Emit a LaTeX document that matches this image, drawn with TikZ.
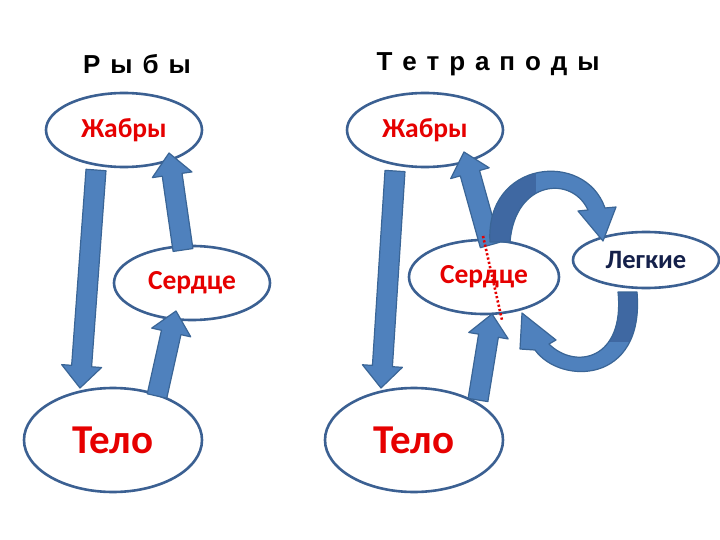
\documentclass[tikz,border=0pt]{standalone}
\usepackage{fontspec}
\setmainfont{Carlito}
\newfontfamily\arialf{Liberation Sans}
\usetikzlibrary{calc,shapes.geometric}
\definecolor{ellline}{HTML}{3B6092}
\definecolor{arrfill}{HTML}{4F81BD}
\definecolor{arrline}{HTML}{3A6596}
\definecolor{arrdark}{HTML}{3F68A2}
\definecolor{lblred}{HTML}{E60000}
\definecolor{navy}{HTML}{14204A}
\tikzset{
  oval/.style={ellipse, draw=ellline, line width=2.6pt, fill=white, inner sep=0pt,
    text=lblred, font=\bfseries\fontsize{27.5}{27.5}\selectfont},
  titletext/.style={font={\arialf\bfseries\fontsize{26}{26}\selectfont\spaceskip=9.9pt\relax}, text=black},
  barrow/.style={fill=arrfill, draw=arrline, line width=1.2pt, line join=round},
  redline/.style={draw=red!90!black, line width=2.6pt, dash pattern=on 2.2pt off 2.2pt},
}
\newcommand\blockarrow[2]{%
  \draw[barrow] ($(#1)!10pt!90:(#2)$)
    -- ($(#2)!22pt!(#1)!10pt!90:(#2)$)
    -- ($(#2)!22pt!(#1)!20pt!90:(#2)$)
    -- (#2)
    -- ($(#2)!22pt!(#1)!20pt!-90:(#2)$)
    -- ($(#2)!22pt!(#1)!10pt!-90:(#2)$)
    -- ($(#1)!10pt!-90:(#2)$) -- cycle;}
\begin{document}
\begin{tikzpicture}[x=1pt,y=-1pt]
\useasboundingbox (0,0) rectangle (720,540);
\fill[white] (0,0) rectangle (720,540);
% titles
\node[titletext] (t1) at (137,64) {Р ы б ы};
\node[titletext] (t2) at (488,64) {Т е т р а п о д ы};
% ovals, fishes
\node[oval, minimum width=156pt, minimum height=74pt] (g1) at (124,130) {Жабры};
\node[oval, minimum width=156pt, minimum height=74pt] (h1) at (192,283) {Сердце};
\node[oval, minimum width=178pt, minimum height=104pt, font=\bfseries\fontsize{41}{41}\selectfont] (b1) at (113,440) {Тело};
% ovals, tetrapods
\node[oval, minimum width=156pt, minimum height=74pt] (g2) at (425,130) {Жабры};
\node[oval, minimum width=150pt, minimum height=74pt] (h2) at (484,277) {Сердце};
\node[oval, minimum width=146pt, minimum height=56pt, text=navy, font=\bfseries\fontsize{26.5}{26.5}\selectfont] (l2) at (646,260) {Легкие};
\node[oval, minimum width=178pt, minimum height=104pt, font=\bfseries\fontsize{41}{41}\selectfont] (b2) at (414,440) {Тело};
% arrow end points
\coordinate (a1s) at (96,170);  \coordinate (a1e) at (80,388);
\coordinate (a2s) at (183,250); \coordinate (a2e) at (169,153);
\coordinate (a3s) at (157,396); \coordinate (a3e) at (176,311);
\coordinate (a4s) at (395,171); \coordinate (a4e) at (381,388);
\coordinate (a5s) at (490,245); \coordinate (a5e) at (464,152);
\coordinate (a6s) at (478,400); \coordinate (a6e) at (492,314);
\blockarrow{a1s}{a1e}
\blockarrow{a2s}{a2e}
\blockarrow{a3s}{a3e}
\blockarrow{a4s}{a4e}
\blockarrow{a5s}{a5e}
\blockarrow{a6s}{a6e}
% curved arrow heart -> lungs
\def\curveA{(490,242) .. controls (485,160) and (585,150) .. (605,208)
   -- (616,207) -- (603,241) -- (578,211) -- (588,210)
   .. controls (572,175) and (515,180) .. (510,242) -- cycle}
\fill[arrfill] \curveA;
\begin{scope}
  \clip \curveA;
  \fill[arrdark] (480,150) rectangle (536,245);
\end{scope}
\draw[arrline, line width=1.2pt, line join=round] \curveA;
% curved arrow lungs -> heart
\def\curveB{(637,292) .. controls (645,385) and (560,385) .. (535,350)
   -- (520,349) -- (522,313) -- (556,340) -- (549,344)
   .. controls (575,370) and (625,360) .. (618,292) -- cycle}
\fill[arrfill] \curveB;
\begin{scope}
  \clip \curveB;
  \fill[arrdark] (608,285) rectangle (650,342);
\end{scope}
\draw[arrline, line width=1.2pt, line join=round] \curveB;
% red dotted line
\coordinate (r1) at (483,236); \coordinate (r2) at (502,320);
\draw[redline] (r1) -- (r2);
\end{tikzpicture}
\end{document}
